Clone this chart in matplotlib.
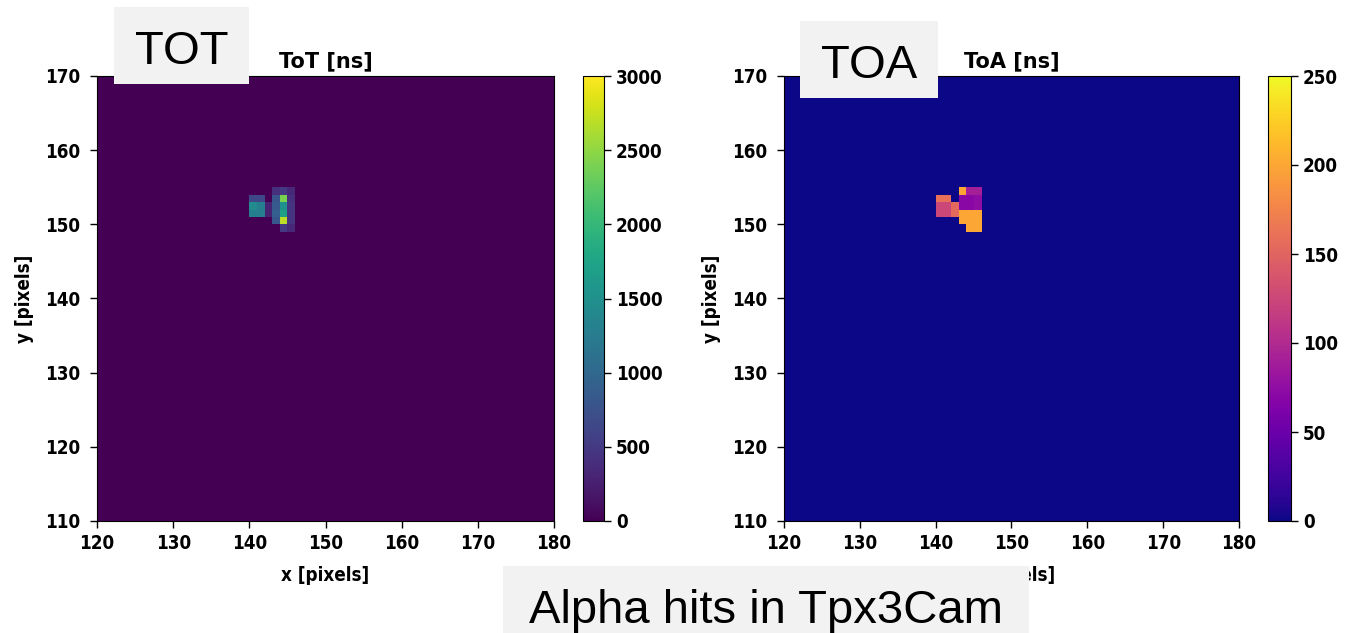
import numpy as np
import matplotlib
matplotlib.use("Agg")
import matplotlib.pyplot as plt
from matplotlib.patches import Rectangle

# Pixel hits of one alpha cluster on the Tpx3Cam sensor (column, row)
hit_x = [143, 144, 145,
         140, 141, 143, 144, 145,
         140, 141, 142, 143, 144, 145,
         140, 141, 142, 143, 144, 145,
         143, 144, 145,
         144, 145]
hit_y = [154, 154, 154,
         153, 153, 153, 153, 153,
         152, 152, 152, 152, 152, 152,
         151, 151, 151, 151, 151, 151,
         150, 150, 150,
         149, 149]
# Time over threshold per pixel [ns]
tot_ns = [400, 500, 350,
          650, 650, 800, 2400, 400,
          1450, 1300, 300, 850, 1500, 450,
          1300, 1300, 300, 900, 1700, 450,
          800, 2700, 450,
          500, 350]
# Time of arrival per pixel [ns]
toa_ns = [200, 90, 90,
          160, 160, 70, 70, 75,
          125, 125, 155, 70, 70, 75,
          125, 125, 155, 200, 200, 200,
          200, 200, 200,
          200, 200]

sensor_size = 256
x_range = (120, 180)
y_range = (110, 170)
axis_ticks_x = [120, 130, 140, 150, 160, 170, 180]
axis_ticks_y = [110, 120, 130, 140, 150, 160, 170]
tot_ticks = [0, 500, 1000, 1500, 2000, 2500, 3000]
toa_ticks = [0, 50, 100, 150, 200, 250]

# Fill full sensor frames
tot_frame = np.zeros((sensor_size, sensor_size))
toa_frame = np.zeros((sensor_size, sensor_size))
for x, y, t, a in zip(hit_x, hit_y, tot_ns, toa_ns):
    tot_frame[y, x] = t
    toa_frame[y, x] = a

W, H = 1351, 633
fig = plt.figure(figsize=(W / 100, H / 100), dpi=100)
fig.patch.set_facecolor("white")

def fbox(x0, y0, x1, y1):
    """Pixel box (top-left origin) -> figure fraction [l, b, w, h]."""
    return [x0 / W, 1 - y1 / H, (x1 - x0) / W, (y1 - y0) / H]

FS = 13.5
lab_font = dict(fontsize=FS, fontweight="bold", family="DejaVu Sans",
                fontstretch="condensed")
title_font = dict(fontsize=15, fontweight="bold", family="DejaVu Sans")

def style_labels(labels):
    for lab in labels:
        lab.set_fontsize(FS)
        lab.set_fontweight("bold")
        lab.set_fontstretch("condensed")

def draw_panel(ax_rect, cax_rect, frame, cmap, vmax, cticks, title):
    ax = fig.add_axes(fbox(*ax_rect))
    im = ax.imshow(frame, origin="lower", cmap=cmap, vmin=0, vmax=vmax,
                   extent=(0, sensor_size, 0, sensor_size),
                   interpolation="nearest", aspect="auto")
    ax.set_xlim(*x_range)
    ax.set_ylim(*y_range)
    ax.set_xticks(axis_ticks_x)
    ax.set_yticks(axis_ticks_y)
    ax.tick_params(axis="both", length=5, width=1)
    ax.tick_params(axis="x", pad=4.5)
    ax.tick_params(axis="y", pad=7)
    style_labels(ax.get_xticklabels() + ax.get_yticklabels())
    ax.set_xlabel("x [pixels]", labelpad=9, **lab_font)
    ax.set_ylabel("y [pixels]", labelpad=8, **lab_font)
    ax.set_title(title, pad=6, **title_font)
    cax = fig.add_axes(fbox(*cax_rect))
    cb = fig.colorbar(im, cax=cax, ticks=cticks)
    cb.ax.tick_params(length=5, width=1, pad=3.5)
    style_labels(cb.ax.get_yticklabels())
    return ax

draw_panel((97, 76, 554, 521), (583, 76, 604, 521), tot_frame, "viridis",
           3000, tot_ticks, "ToT [ns]")
draw_panel((784, 76, 1239, 521), (1268, 76, 1291, 521), toa_frame, "plasma",
           250, toa_ticks, "ToA [ns]")

# Caption boxes over the figure
def caption(x0, y0, x1, y1, baseline, text):
    fig.add_artist(Rectangle((x0 / W, 1 - y1 / H), (x1 - x0) / W, (y1 - y0) / H,
                             transform=fig.transFigure, facecolor="#f2f2f2",
                             edgecolor="none", zorder=5))
    fig.text((x0 + x1) / 2 / W, 1 - baseline / H, text,
             ha="center", va="baseline", fontsize=34,
             family="Liberation Sans", color="black", zorder=6)

caption(114, 7, 249, 84, 64, "TOT")
caption(800, 21, 938, 98, 78, "TOA")
caption(503, 566, 1029, 640, 623, "Alpha hits in Tpx3Cam")

fig.savefig("out.png", dpi=100)
